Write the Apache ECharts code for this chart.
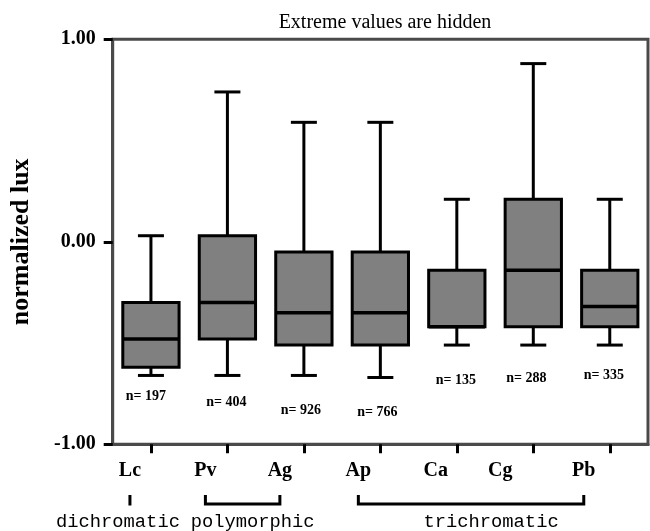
<!DOCTYPE html>
<html>
<head>
<meta charset="utf-8">
<script src="https://cdn.jsdelivr.net/npm/echarts@6/dist/echarts.min.js"></script>
<style>
  html, body { margin: 0; padding: 0; background: #fff; }
  #chart { width: 650px; height: 531px; }
</style>
</head>
<body>
<div id="chart"></div>
<script>
// Species and box statistics (normalized lux)
const categories  = ['Lc', 'Pv', 'Ag', 'Ap', 'Ca', 'Cg', 'Pb'];
const whiskerLow  = [-0.66, -0.66, -0.66, -0.67, -0.51, -0.51, -0.51];
const quartile1   = [-0.62, -0.48, -0.51, -0.51, -0.42, -0.42, -0.42];
const medians     = [-0.48, -0.30, -0.35, -0.35, -0.42, -0.14, -0.32];
const quartile3   = [-0.30,  0.03, -0.05, -0.05, -0.14,  0.21, -0.14];
const whiskerHigh = [ 0.03,  0.74,  0.59,  0.59,  0.21,  0.88,  0.21];
const sampleSizes = [197, 404, 926, 766, 135, 288, 335];
// value at which each "n=" note sits
const noteAnchor  = [-0.765, -0.793, -0.834, -0.844, -0.684, -0.676, -0.661];
const yTicks = [-1, 0, 1];

// colour-vision groups spanning the categories
const groupNames = ['dichromatic', 'polymorphic', 'trichromatic'];
const groupFirst = [0, 1, 3];
const groupLast  = [0, 2, 6];

// styling offsets (pixels)
const labelShift  = [21, 22, 24, 22, 21, 33, 26];
const noteShift   = [-5, -1, -3, -3, -1, -7, -6];
const groupTextDx = [-12, 10, 20];

const SERIF = 'Liberation Serif, Times New Roman, serif';
const MONO = 'Liberation Mono, Courier New, monospace';

const boxData = categories.map((c, i) => [
  i, whiskerLow[i], quartile1[i], medians[i], quartile3[i], whiskerHigh[i],
  noteAnchor[i], sampleSizes[i]
]);

const rich = {};
labelShift.forEach((s, i) => {
  rich['c' + i] = {
    fontFamily: SERIF, fontWeight: 'bold', fontSize: 20, color: '#000',
    padding: [0, 2 * s, 0, 0]
  };
});

function renderBox(params, api) {
  const i = api.value(0);
  const lo = api.coord([i, api.value(1)]);
  const q1 = api.coord([i, api.value(2)]);
  const md = api.coord([i, api.value(3)]);
  const q3 = api.coord([i, api.value(4)]);
  const hi = api.coord([i, api.value(5)]);
  const note = api.coord([i, api.value(6)]);
  const band = api.size([1, 0])[0];
  const half = band * 0.368;
  const cap = 13;
  const cx = lo[0];
  const stroke = { stroke: '#000', lineWidth: 3 };
  return {
    type: 'group',
    children: [
      { type: 'line', shape: { x1: cx, y1: hi[1], x2: cx, y2: q3[1] }, style: stroke },
      { type: 'line', shape: { x1: cx, y1: q1[1], x2: cx, y2: lo[1] }, style: stroke },
      { type: 'line', shape: { x1: cx - cap, y1: hi[1], x2: cx + cap, y2: hi[1] }, style: stroke },
      { type: 'line', shape: { x1: cx - cap, y1: lo[1], x2: cx + cap, y2: lo[1] }, style: stroke },
      {
        type: 'rect',
        shape: { x: cx - half, y: q3[1], width: 2 * half, height: q1[1] - q3[1] },
        style: { fill: '#808080', stroke: '#000', lineWidth: 3 }
      },
      { type: 'line', shape: { x1: cx - half, y1: md[1], x2: cx + half, y2: md[1] }, style: { stroke: '#000', lineWidth: 3.5 } },
      {
        type: 'text',
        x: cx + noteShift[i],
        y: note[1],
        style: {
          text: 'n= ' + api.value(7),
          fill: '#000',
          font: 'bold 14px ' + SERIF,
          align: 'center',
          verticalAlign: 'middle'
        }
      }
    ]
  };
}

const chart = echarts.init(document.getElementById('chart'), null, { renderer: 'canvas' });

chart.setOption({
  animation: false,
  backgroundColor: '#fff',
  title: {
    text: 'Extreme values are hidden',
    left: 380,
    textAlign: 'center',
    top: 8,
    textStyle: { fontFamily: SERIF, fontWeight: 'normal', fontSize: 20, color: '#000' }
  },
  grid: {
    left: 112.7, right: 2, top: 39.3, bottom: 86.7,
    show: true, borderColor: '#4a4a4a', borderWidth: 3, backgroundColor: 'transparent'
  },
  xAxis: {
    type: 'category',
    data: categories,
    boundaryGap: true,
    axisLine: { show: true, onZero: false, lineStyle: { color: '#4a4a4a', width: 3 } },
    axisTick: { show: true, alignWithLabel: true, inside: false, length: 9, lineStyle: { color: '#000', width: 3 } },
    axisLabel: {
      margin: 17,
      formatter: (v, i) => '{c' + i + '|' + v + '}',
      rich: rich
    },
    splitLine: { show: false }
  },
  yAxis: {
    type: 'value',
    min: yTicks[0],
    max: yTicks[yTicks.length - 1],
    interval: 1,
    name: 'normalized lux',
    nameLocation: 'middle',
    nameGap: 78,
    nameTextStyle: { fontFamily: SERIF, fontWeight: 'bold', fontSize: 26, color: '#000' },
    axisLine: { show: true, lineStyle: { color: '#4a4a4a', width: 3 } },
    axisTick: { show: true, inside: false, length: 9, lineStyle: { color: '#000', width: 3 } },
    axisLabel: {
      margin: 17,
      formatter: v => v.toFixed(2),
      fontFamily: SERIF, fontWeight: 'bold', fontSize: 20, color: '#000'
    },
    splitLine: { show: false }
  },
  series: [{
    type: 'custom',
    renderItem: renderBox,
    encode: { x: 0, y: [1, 2, 3, 4, 5] },
    data: boxData,
    clip: false,
    z: 3
  }]
});

// brackets and names of the colour-vision groups under the axis labels
function labelX(i) {
  return chart.convertToPixel({ xAxisIndex: 0 }, categories[i]) - labelShift[i];
}
const graphics = [];
const bTop = 495, bBottom = 504;
groupNames.forEach((name, g) => {
  const x1 = labelX(groupFirst[g]);
  const x2 = labelX(groupLast[g]);
  if (groupFirst[g] === groupLast[g]) {
    graphics.push({ type: 'line', shape: { x1: x1, y1: bTop, x2: x1, y2: bBottom + 1.5 },
      style: { stroke: '#000', lineWidth: 3 } });
  } else {
    graphics.push({ type: 'polyline',
      shape: { points: [[x1, bTop], [x1, bBottom], [x2, bBottom], [x2, bTop]] },
      style: { stroke: '#000', lineWidth: 3, fill: null, lineJoin: 'miter' } });
  }
  graphics.push({
    type: 'text',
    x: (x1 + x2) / 2 + groupTextDx[g],
    y: 522,
    style: { text: name, fill: '#000', font: '18.8px ' + MONO, align: 'center', verticalAlign: 'middle' }
  });
});
chart.setOption({ graphic: graphics });
</script>
</body>
</html>
